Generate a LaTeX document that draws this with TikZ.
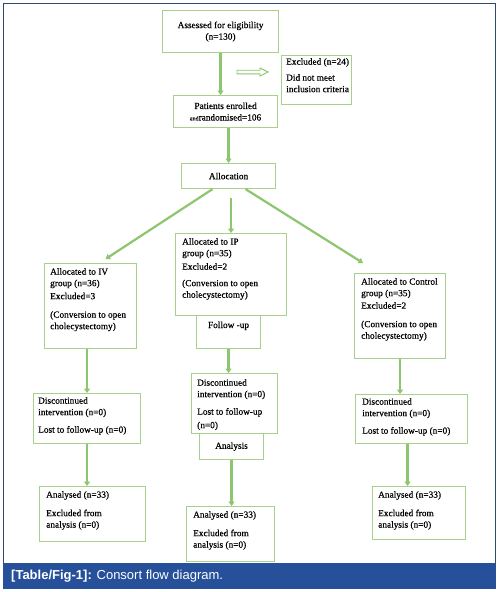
\documentclass[tikz,border=0pt]{standalone}
\usepackage{fontspec}
\setmainfont{Liberation Serif}[FakeBold=0.5]
\newfontfamily\capfont{Liberation Sans}
\usetikzlibrary{arrows.meta,calc}
\definecolor{boxgreen}{HTML}{A8D08D}
\definecolor{arrgreen}{HTML}{8DC66E}
\definecolor{framec}{HTML}{2D4B6E}
\definecolor{capbar}{HTML}{27509B}
\begin{document}
\begin{tikzpicture}[x=1pt,y=-1pt,
 box/.style={draw=boxgreen,line width=1.1pt,anchor=north west,inner sep=0pt,fill=white,align=center,font=\fontsize{9.3}{11.5}\selectfont},
 txt/.style={anchor=north west,inner sep=0pt,align=left,font=\fontsize{9.3}{11.5}\selectfont},
 arr/.style={draw=arrgreen,line width=2.2pt,-{Triangle[width=6pt,length=4.5pt]}},
]
\useasboundingbox (0,0) rectangle (499,592);
\fill[white] (0,0) rectangle (499,592);
\draw[framec,line width=1.5pt] (3.5,563) -- (3.5,3.5) -- (495.5,3.5) -- (495.5,563);
\node[fill=capbar,minimum width=493pt,minimum height=26pt,anchor=north west,inner sep=0pt] (cap) at (3,563) {};
\node[anchor=west,inner sep=0pt,text=white,font=\capfont\fontsize{13}{15}\selectfont] (capt) at (11,576) {\textbf{[Table/Fig-1]:} Consort flow diagram.};

% top
\node[box,minimum width=116pt,minimum height=42pt] (elig) at (162,10) {Assessed for eligibility\\(n=130)};
\node[box,minimum width=70pt,minimum height=49pt] (excl) at (281,55) {};
\node[txt] (exclt) at (286,58) {Excluded (n=24)\\[4.5pt]Did not meet\\inclusion criteria};
\coordinate (ex1) at (237,72);
\coordinate (ex2) at (268,72);
\draw[arrgreen,line width=0.9pt] ($(ex1)+(0,-1.8)$) -- ($(ex2)+(-8,-1.8)$) -- ($(ex2)+(-8,-4)$) -- (ex2) -- ($(ex2)+(-8,4)$) -- ($(ex2)+(-8,1.8)$) -- ($(ex1)+(0,1.8)$) -- cycle;
\node[box,minimum width=104pt,minimum height=32pt] (enrol) at (173,95) {Patients enrolled\\{\fontsize{6}{7}\selectfont and}randomised=106};
\node[box,minimum width=94pt,minimum height=25pt] (alloc) at (181,163) {Allocation};

% left column
\node[box,minimum width=92pt,minimum height=85pt] (iv) at (44,263) {};
\node[txt] (ivt) at (50,268) {Allocated to IV\\group (n=36)\\[1.5pt]Excluded=3\\[7pt](Conversion to open\\cholecystectomy)};
\node[box,minimum width=107pt,minimum height=50pt] (discL) at (33,393) {};
\node[txt] (discLt) at (38,397) {Discontinued\\intervention (n=0)\\[6pt]Lost to follow-up (n=0)};
\node[box,minimum width=106pt,minimum height=55pt] (anaL) at (39,486) {};
\node[txt] (anaLt) at (46,491) {Analysed (n=33)\\[7pt]Excluded from\\analysis (n=0)};

% middle column
\node[box,minimum width=111pt,minimum height=82pt] (ip) at (175,233) {};
\node[txt] (ipt) at (182,238) {Allocated to IP\\group (n=35)\\[2pt]Excluded=2\\[5pt](Conversion to open\\cholecystectomy)};
\node[box,minimum width=64pt,minimum height=33pt] (follow) at (196,315) {Follow -up\\[3pt]};
\node[box,minimum width=86pt,minimum height=60pt] (discM) at (191,373) {};
\node[txt] (discMt) at (197,379) {Discontinued\\intervention (n=0)\\[6pt]Lost to follow-up\\[2pt](n=0)};
\node[box,minimum width=64pt,minimum height=26pt] (analysis) at (199,433) {Analysis};
\node[box,minimum width=88pt,minimum height=55pt] (anaM) at (186,506) {};
\node[txt] (anaMt) at (193,511) {Analysed (n=33)\\[7pt]Excluded from\\analysis (n=0)};

% right column
\node[box,minimum width=91pt,minimum height=85pt] (ctrl) at (354,273) {};
\node[txt] (ctrlt) at (361,278) {Allocated to Control\\group (n=35)\\[1pt]Excluded=2\\[7pt](Conversion to open\\cholecystectomy)};
\node[box,minimum width=112pt,minimum height=49pt] (discR) at (355,394) {};
\node[txt] (discRt) at (362,398) {Discontinued\\intervention (n=0)\\[6pt]Lost to follow-up (n=0)};
\node[box,minimum width=93pt,minimum height=53pt] (anaR) at (372,486) {};
\node[txt] (anaRt) at (378,491) {Analysed (n=33)\\[7pt]Excluded from\\analysis (n=0)};

% arrows
\coordinate (rs) at ($(discR.south)+(-4,0)$);
\draw[arr] (elig.south) -- (elig.south |- enrol.north);
\draw[arr] (alloc.north |- enrol.south) -- (alloc.north);
\draw[arr] ($(alloc.south)+(-16,0)$) -- ($(iv.north)+(15,-4)$);
\draw[arr,shorten <=9pt] (ip.north |- alloc.south) -- (ip.north);
\draw[arr] ($(alloc.south)+(17,0)$) -- ($(ctrl.north west)+(9,-10)$);
\draw[arr] (discL.north |- iv.south) -- (discL.north);
\draw[arr] (discL.south) -- (discL.south |- anaL.north);
\draw[arr] (follow.south) -- (follow.south |- discM.north);
\draw[arr] (analysis.south) -- (analysis.south |- anaM.north);
\draw[arr] (ctrl.south) -- (ctrl.south |- discR.north);
\draw[arr] (rs) -- (rs |- anaR.north);
\end{tikzpicture}
\end{document}
